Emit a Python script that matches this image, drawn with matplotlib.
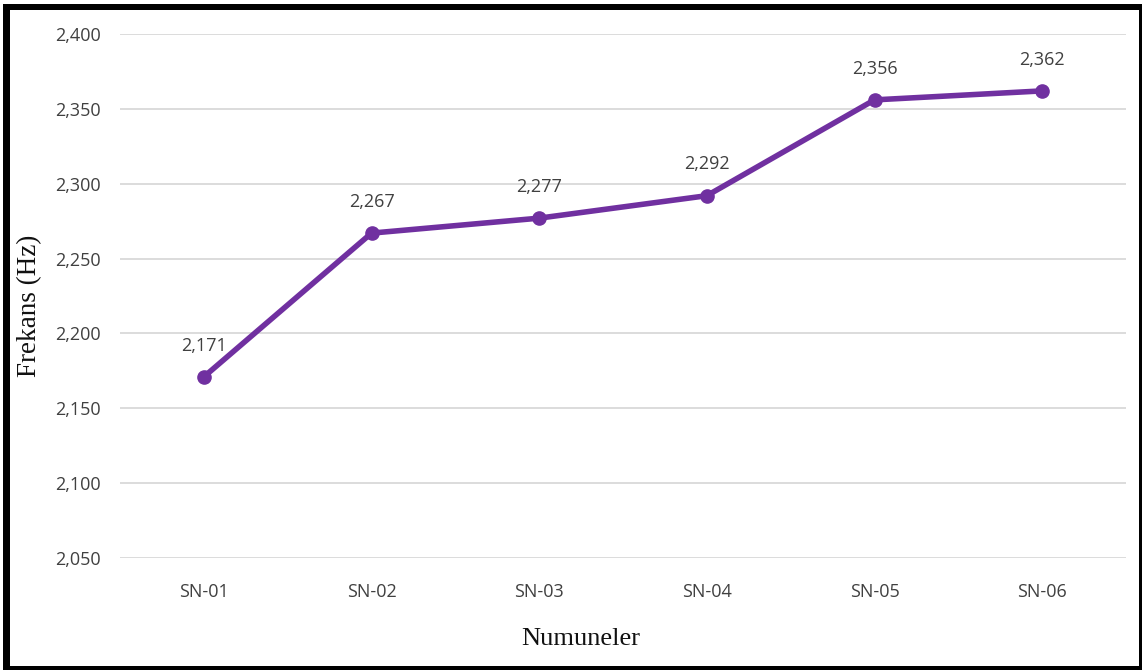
import matplotlib
matplotlib.use("Agg")
import matplotlib.pyplot as plt
from matplotlib.patches import Rectangle

samples = ["SN-01", "SN-02", "SN-03", "SN-04", "SN-05", "SN-06"]
frequency = [2.171, 2.267, 2.277, 2.292, 2.356, 2.362]
y_ticks = [2.050, 2.100, 2.150, 2.200, 2.250, 2.300, 2.350, 2.400]

W, H = 1142, 670
fig = plt.figure(figsize=(W / 100, H / 100), dpi=100)
fig.patch.set_facecolor("white")

ax = fig.add_axes([120 / W, 1 - 558 / H, (1126 - 120) / W, (558 - 34) / H])

def fmt(v):
    return f"{v:.3f}".replace(".", ",")

x = list(range(len(samples)))
ax.plot(x, frequency, color="#7030A0", lw=4, marker="o", ms=9.5,
        solid_capstyle="round", solid_joinstyle="round", zorder=3)
for xi, v in zip(x, frequency):
    ax.annotate(fmt(v), (xi, v), xytext=(0, 16), textcoords="offset points",
                ha="center", va="bottom", fontsize=13, color="#404040",
                family="Open Sans")

ax.set_xlim(-0.5, len(samples) - 0.5)
ax.set_ylim(y_ticks[0], y_ticks[-1])
ax.set_yticks(y_ticks)
ax.set_yticklabels([fmt(v) for v in y_ticks], family="Open Sans",
                   fontsize=13, color="#404040")
ax.set_xticks(x)
ax.set_xticklabels(samples, family="Open Sans", fontsize=13, color="#404040")
ax.tick_params(axis="both", length=0, pad=14)
ax.tick_params(axis="x", pad=18)
ax.grid(axis="y", color="#D9D9D9", lw=1.3)
ax.set_axisbelow(True)
for s in ax.spines.values():
    s.set_visible(False)

fig.text(30 / W, 1 - 306 / H, "Frekans (Hz)", rotation=90, ha="center",
         va="center", family="Liberation Serif", fontsize=19.5, color="#111111")
fig.text(581 / W, 1 - 639 / H, "Numuneler", ha="center", va="center",
         family="Liberation Serif", fontsize=19, color="#111111")

# black outer frame
for (x0, y0, w, h) in [(3, 4, 7, 666), (3, 4, 1139, 6),
                       (1139, 4, 3, 666), (3, 666, 1139, 4)]:
    fig.add_artist(Rectangle((x0 / W, 1 - (y0 + h) / H), w / W, h / H,
                             transform=fig.transFigure, facecolor="black",
                             edgecolor="none"))

fig.savefig("out.png", dpi=100, facecolor="white")
